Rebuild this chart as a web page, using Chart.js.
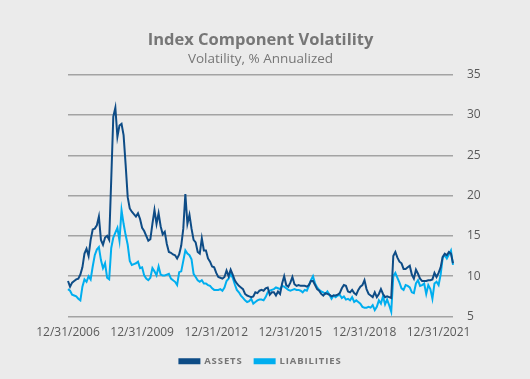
<!DOCTYPE html>
<html>
<head>
<meta charset="utf-8">
<script src="https://cdn.jsdelivr.net/npm/chart.js@4"></script>
<style>
  html, body { margin: 0; padding: 0; background: #ebebeb; }
  #chartCanvas { display: block; }
</style>
</head>
<body>
<canvas id="chartCanvas" width="530" height="379"></canvas>
<script>
// monthly values, 12/31/2006 .. 7/31/2022
const startYear = 2006;
const startMonth = 11; // December (0 based)
const tickEvery = 36; // one label every 3 years

const assets = [
  9.4, 8.7, 9.2, 9.4, 9.6, 9.7, 10.2, 11.1, 12.8, 13.4, 12.5, 14.5, 15.8, 15.9, 16.3, 17.4, 14.5, 13.9, 14.8, 15.0,
  14.5, 22.0, 29.8, 30.9, 27.3, 28.7, 28.9, 27.5, 23.8, 19.8, 18.4, 18.0, 17.7, 17.4, 17.8, 17.1, 16.0, 15.6, 15.0, 14.4,
  14.6, 16.5, 18.2, 16.5, 17.8, 16.2, 15.2, 15.5, 14.0, 13.0, 12.9, 12.7, 12.6, 12.2, 12.7, 13.8, 15.9, 20.2, 16.5, 17.6,
  15.9, 14.5, 14.2, 13.0, 12.8, 14.7, 13.2, 13.2, 12.2, 11.8, 11.2, 11.1, 10.4, 9.9, 9.8, 9.7, 9.9, 10.7, 10.0, 10.8,
  10.2, 9.5, 9.1, 8.8, 8.6, 8.4, 7.8, 7.6, 7.5, 7.4, 7.5, 8.0, 7.9, 8.2, 8.3, 8.2, 8.5, 8.6, 7.7, 8.0,
  8.0, 7.6, 8.1, 7.8, 9.1, 10.0, 8.9, 8.7, 9.2, 9.9, 9.0, 8.8, 8.9, 8.8, 8.8, 8.8, 8.7, 8.9, 9.4, 9.4,
  8.9, 8.4, 8.2, 7.8, 7.6, 7.9, 7.8, 7.7, 7.5, 7.6, 7.6, 7.7, 7.9, 8.5, 8.9, 8.8, 8.1, 8.0, 8.3, 7.9,
  7.7, 8.3, 8.7, 8.9, 9.5, 8.4, 7.8, 7.6, 7.4, 8.0, 7.4, 7.8, 8.4, 7.8, 7.4, 7.5, 7.4, 7.3, 12.5, 13.0,
  12.3, 11.8, 11.6, 10.9, 10.9, 11.1, 11.3, 10.2, 9.7, 10.8, 10.3, 9.7, 9.4, 9.4, 9.4, 9.5, 9.5, 9.6, 10.4, 9.9,
  10.4, 11.1, 12.4, 12.8, 12.6, 13.0, 12.8, 11.6
];

const liabilities = [
  8.4, 8.2, 7.7, 7.6, 7.5, 7.2, 7.0, 8.7, 9.6, 9.3, 10.0, 9.6, 11.2, 12.6, 13.3, 13.6, 12.0, 11.0, 11.6, 9.8,
  9.6, 13.5, 14.8, 15.4, 16.0, 14.4, 18.2, 16.5, 15.1, 13.9, 11.9, 11.4, 11.5, 11.6, 11.8, 11.0, 11.1, 10.1, 9.7, 9.5,
  9.8, 11.0, 10.6, 10.1, 11.2, 10.2, 10.1, 10.1, 10.2, 10.3, 9.7, 9.5, 9.3, 8.9, 10.5, 10.6, 11.9, 13.2, 12.8, 12.6,
  12.1, 10.3, 9.9, 9.5, 9.3, 9.5, 9.1, 9.1, 8.9, 8.8, 8.5, 8.3, 8.3, 8.3, 8.4, 8.2, 8.6, 9.4, 9.7, 10.3,
  9.8, 9.0, 8.3, 8.0, 7.6, 7.3, 7.0, 6.8, 6.9, 7.2, 6.6, 6.8, 7.0, 7.1, 7.1, 7.0, 7.4, 8.0, 8.2, 8.3,
  8.4, 8.6, 8.5, 8.4, 8.8, 8.7, 8.5, 8.3, 8.2, 8.3, 8.4, 8.3, 8.3, 8.2, 8.0, 8.3, 8.2, 8.8, 9.5, 10.0,
  9.1, 8.6, 8.3, 8.1, 8.0, 7.8, 8.1, 7.7, 7.2, 7.6, 7.4, 7.6, 7.7, 7.3, 7.5, 7.1, 7.2, 7.0, 7.4, 6.8,
  7.0, 6.8, 6.6, 6.2, 6.1, 6.1, 6.2, 6.1, 6.4, 5.8, 6.2, 7.0, 6.6, 7.5, 6.5, 7.1, 6.4, 5.6, 10.0, 10.4,
  9.8, 9.2, 8.5, 8.3, 8.9, 8.8, 8.6, 8.0, 7.9, 9.1, 9.5, 8.8, 8.9, 9.1, 7.8, 8.9, 8.4, 7.2, 9.1, 9.3,
  8.9, 10.2, 12.3, 12.6, 12.2, 12.7, 13.2, 11.4
];

// month end dates as category labels
const labels = [];
for (let i = 0; i < assets.length; i++) {
  const m = startMonth + i;
  const y = startYear + Math.floor(m / 12);
  const mo = m % 12;
  const last = new Date(y, mo + 1, 0).getDate();
  labels.push((mo + 1) + "/" + last + "/" + y);
}

const textGray = "#767676";
const axisGray = "#595959";

// spaced out legend text, like the original
const legendSpacing = {
  id: "legendSpacing",
  beforeUpdate(chart) {
    const lg = chart.legend;
    if (!lg || lg._spaced) return;
    lg._spaced = true;
    ["update", "draw"].forEach(function (fn) {
      const orig = lg[fn];
      lg[fn] = function () {
        const c = this.ctx;
        c.save();
        c.letterSpacing = "0.9px";
        const r = orig.apply(this, arguments);
        c.restore();
        return r;
      };
    });
  }
};

new Chart(document.getElementById("chartCanvas"), {
  type: "line",
  data: {
    labels: labels,
    datasets: [{
      label: "ASSETS",
      data: assets,
      borderColor: "#0e4c86",
      backgroundColor: "#0e4c86",
      borderWidth: 2,
      pointRadius: 0,
      tension: 0
    }, {
      label: "LIABILITIES",
      data: liabilities,
      borderColor: "#00aeef",
      backgroundColor: "#00aeef",
      borderWidth: 2,
      pointRadius: 0,
      tension: 0
    }]
  },
  plugins: [legendSpacing],
  options: {
    responsive: false,
    devicePixelRatio: 1,
    animation: false,
    layout: { padding: { left: 68, right: 0, top: 0, bottom: 3 } },
    plugins: {
      title: {
        display: true,
        fullSize: false,
        text: "Index Component Volatility",
        color: textGray,
        font: { family: "'Open Sans'", size: 16.5, weight: "bold", lineHeight: 1.2 },
        padding: { top: 30, bottom: 2 }
      },
      subtitle: {
        display: true,
        fullSize: false,
        text: "Volatility, % Annualized",
        color: textGray,
        font: { family: "'Open Sans'", size: 13.5, lineHeight: 1.1 },
        padding: { top: 0, bottom: 8 }
      },
      legend: {
        position: "bottom",
        fullSize: false,
        labels: {
          boxWidth: 20,
          boxHeight: 4,
          padding: 12,
          color: textGray,
          font: { family: "'Open Sans'", size: 9.5, weight: "bold" }
        }
      },
      tooltip: { enabled: false }
    },
    scales: {
      x: {
        grid: { display: false, drawTicks: false },
        border: { display: false },
        ticks: {
          autoSkip: false,
          maxRotation: 0,
          minRotation: 0,
          padding: 9,
          color: axisGray,
          font: { family: "'Open Sans'", size: 12 },
          callback: function (value, index) {
            return index % tickEvery === 0 ? labels[index] : null;
          }
        },
        afterFit: function (scale) { scale.height = 28; }
      },
      y: {
        position: "right",
        min: 5,
        max: 35,
        grid: { color: "#a3a3a3", lineWidth: 1.5, drawTicks: false },
        border: { display: false },
        ticks: {
          stepSize: 5,
          padding: 14,
          color: axisGray,
          font: { family: "'Open Sans'", size: 12 }
        },
        afterFit: function (scale) { scale.width = 77; }
      }
    }
  }
});
</script>
</body>
</html>
